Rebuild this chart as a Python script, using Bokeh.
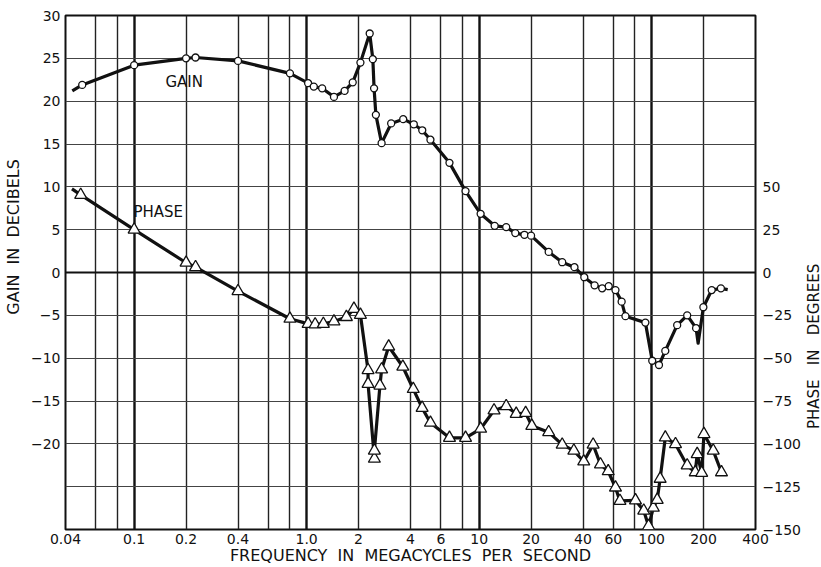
import math
from bokeh.plotting import figure
from bokeh.layouts import row
from bokeh.models import (Range1d, LinearAxis, FixedTicker, Label, ColumnDataSource)
from bokeh.embed import file_html
from bokeh.resources import INLINE

# ---------------- data ----------------
x_tick_vals = [0.04, 0.1, 0.2, 0.4, 1, 2, 4, 6, 10, 20, 40, 60, 100, 200, 400]
x_tick_labels = ["0.04", "0.1", "0.2", "0.4", "1.0", "2", "4", "6", "10", "20",
                 "40", "60", "100", "200", "400"]
x_grid_vals = [0.06, 0.08, 0.2, 0.4, 0.6, 0.8, 2, 4, 6, 8, 20, 40, 60, 80, 200]
x_grid_bold = [0.1, 1, 10, 100]

gain_tick_vals = [30, 25, 20, 15, 10, 5, 0, -5, -10, -15, -20]
gain_tick_labels = ["30", "25", "20", "15", "10", "5", "0", "\u22125", "\u221210",
                    "\u221215", "\u221220"]
phase_tick_vals = [50, 25, 0, -25, -50, -75, -100, -125, -150]
phase_tick_labels = ["50", "25", "0", "\u221225", "\u221250", "\u221275",
                     "\u2212100", "\u2212125", "\u2212150"]
y_grid_vals = [25, 20, 15, 10, 5, -5, -10, -15, -20, -25]
y_grid_bold = [0]

# gain (dB) measured points (circles)
gain_f = [0.05, 0.1, 0.2, 0.227, 0.4, 0.8, 1.02, 1.10, 1.23, 1.44, 1.66, 1.85,
          2.05, 2.32, 2.42, 2.46, 2.52, 2.72, 3.09, 3.63, 4.18, 4.68, 5.22, 6.73,
          8.34, 10.2, 12.3, 14.35, 16.2, 18.3, 20.0, 25.3, 30.3, 35.7, 40.7, 46.7,
          51.7, 56.4, 61.7, 67.0, 70.5, 92, 100.8, 110.3, 120, 140.6, 160.7, 181,
          199.5, 223, 252]
gain_db = [21.9, 24.2, 25.0, 25.1, 24.7, 23.25, 22.1, 21.7, 21.5, 20.5, 21.2, 22.2,
           24.5, 27.9, 24.9, 21.5, 18.4, 15.1, 17.4, 17.9, 17.3, 16.6, 15.5, 12.8,
           9.5, 6.85, 5.45, 5.3, 4.6, 4.4, 4.3, 2.4, 1.2, 0.62, -0.55, -1.5,
           -1.85, -1.6, -2.05, -3.4, -5.1, -5.85, -10.3, -10.8, -9.15, -6.15, -5.0, -6.5,
           -4.05, -2.05, -1.85]
# curve-only vertices of the gain trace (start, sharp dip, end)
gain_extra_f = [0.0438, 186, 276]
gain_extra_db = [21.2, -8.25, -2.0]

# phase (degrees) measured points (triangles), in drawing order
phase_f = [0.049, 0.1, 0.2, 0.227, 0.4, 0.8, 1.02, 1.12, 1.25, 1.44, 1.70, 1.88,
           2.05, 2.27, 2.27, 2.47, 2.47, 2.66, 2.72, 2.99, 3.61, 4.15, 4.67, 5.22,
           6.73, 8.34, 10.2, 12.2, 14.35, 16.4, 18.6, 20.2, 25.3, 30.3, 35.4, 40.4,
           45.8, 50.5, 56, 61.7, 65.5, 80.6, 90, 96, 102.3, 107.7, 112, 120,
           137.5, 160.7, 179, 183.7, 195, 201, 227.5, 254]
phase_deg = [45.3, 25, 5.7, 3.1, -10.9, -27, -30, -30.3, -30, -28.6, -26, -21.2,
             -24.7, -57, -65, -108.7, -104, -66, -56.6, -43.2, -55, -68, -79, -87.7,
             -96.5, -96.5, -91.2, -80.5, -78, -82.5, -82, -89.5, -93.2, -100.5, -104, -110.3,
             -100.5, -112, -116, -125.5, -133.3, -133, -139, -148, -137.3, -132.7, -120.4, -96.3,
             -100.2, -112.6, -116.6, -106, -117, -94.3, -104, -116.6]
phase_start_f = [0.0436]
phase_start_deg = [48.8]

# ---------------- figure ----------------
FONT = "DejaVu Sans"
NB = "\u00a0"
p = figure(width=805, height=567, x_axis_type="log",
           x_range=Range1d(0.04, 400), y_range=Range1d(-30, 30),
           output_backend="svg", toolbar_location=None, title=None,
           min_border_left=65, min_border_right=50, min_border_top=15,
           min_border_bottom=38)
p.background_fill_color = "white"
p.border_fill_color = "white"
p.outline_line_color = "#111111"
p.outline_line_width = 2
p.extra_y_ranges = {"phase": Range1d(-150, 150)}

# grids
p.xgrid.ticker = FixedTicker(ticks=x_grid_vals, minor_ticks=x_grid_bold)
p.xgrid.grid_line_color = "#222222"
p.xgrid.grid_line_width = 1.4
p.xgrid.minor_grid_line_color = "#111111"
p.xgrid.minor_grid_line_width = 2.4
p.ygrid.ticker = FixedTicker(ticks=y_grid_vals, minor_ticks=y_grid_bold)
p.ygrid.grid_line_color = "#444444"
p.ygrid.grid_line_width = 1.1
p.ygrid.minor_grid_line_color = "#111111"
p.ygrid.minor_grid_line_width = 2.0

def style_axis(ax, standoff, label=None, label_standoff=0, label_size="15px"):
    ax.axis_line_color = None
    ax.major_tick_line_color = None
    ax.minor_tick_line_color = None
    ax.major_tick_out = 0
    ax.major_tick_in = 0
    ax.minor_tick_out = 0
    ax.minor_tick_in = 0
    ax.major_label_text_font = FONT
    ax.major_label_text_font_size = "14px"
    ax.major_label_text_color = "#111111"
    ax.major_label_standoff = standoff
    if label is not None:
        ax.axis_label = label
        ax.axis_label_text_font = FONT
        ax.axis_label_text_font_size = label_size
        ax.axis_label_text_font_style = "normal"
        ax.axis_label_text_color = "#111111"
        ax.axis_label_standoff = label_standoff

xa = p.xaxis[0]
xa.ticker = FixedTicker(ticks=x_tick_vals)
xa.major_label_overrides = {v: s for v, s in zip(x_tick_vals, x_tick_labels)}
x_title = (2 * NB).join(["FREQUENCY", "IN", "MEGACYCLES", "PER", "SECOND"])
style_axis(xa, 4, x_title, -1, "16px")

ya = p.yaxis[0]
ya.ticker = FixedTicker(ticks=gain_tick_vals)
ya.major_label_overrides = {v: s for v, s in zip(gain_tick_vals, gain_tick_labels)}
# leading no-break spaces move the visible words up along the axis, as in the original
y_title = NB * 14 + (2 * NB).join(["GAIN", "IN", "DECIBELS"])
style_axis(ya, 5, y_title, 5, "16px")

ra = LinearAxis(y_range_name="phase", ticker=FixedTicker(ticks=phase_tick_vals))
ra.major_label_overrides = {v: s for v, s in zip(phase_tick_vals, phase_tick_labels)}
style_axis(ra, 7)
p.add_layout(ra, "right")

# ---------------- curves ----------------
g_pairs = sorted(zip(gain_f + gain_extra_f, gain_db + gain_extra_db))
gain_line = ColumnDataSource(dict(f=[a for a, b in g_pairs], v=[b for a, b in g_pairs]))
gain_pts = ColumnDataSource(dict(f=gain_f, v=gain_db))
phase_line = ColumnDataSource(dict(f=phase_start_f + phase_f, v=phase_start_deg + phase_deg))
phase_pts = ColumnDataSource(dict(f=phase_f, v=phase_deg))

p.line("f", "v", source=gain_line, line_color="#111111", line_width=3.2, line_join="round")
p.scatter("f", "v", source=gain_pts, marker="circle", size=7, fill_color="white",
          line_color="#111111", line_width=1.3)

p.line("f", "v", source=phase_line, y_range_name="phase", line_color="#111111",
       line_width=3.2, line_join="round")
p.scatter("f", "v", source=phase_pts, y_range_name="phase", marker="triangle", size=12,
          fill_color="white", line_color="#111111", line_width=1.3)

# ---------------- texts ----------------
p.add_layout(Label(x=0.195, y=22.2, text="GAIN", text_font=FONT, text_font_size="15px",
                   text_align="center", text_baseline="middle", text_color="#111111"))
p.add_layout(Label(x=0.138, y=7.1, text="PHASE", text_font=FONT, text_font_size="15px",
                   text_align="center", text_baseline="middle", text_color="#111111"))

# narrow strip on the right carrying the phase-axis title (reads bottom to top)
side = figure(width=16, height=567, x_range=Range1d(0, 16), y_range=Range1d(0, 567),
              output_backend="svg", toolbar_location=None, title=None,
              x_axis_location=None, y_axis_location=None, min_border=0)
side.grid.visible = False
side.outline_line_color = None
side.background_fill_color = "white"
side.border_fill_color = "white"
side.add_layout(Label(x=8, y=202, angle=math.pi / 2,
                      text=(3 * NB).join(["PHASE", "IN", "DEGREES"]),
                      text_font=FONT, text_font_size="15px", text_align="center",
                      text_baseline="middle", text_color="#111111"))

layout = row(p, side, spacing=0)
open("out.html", "w").write(file_html(layout, INLINE))
